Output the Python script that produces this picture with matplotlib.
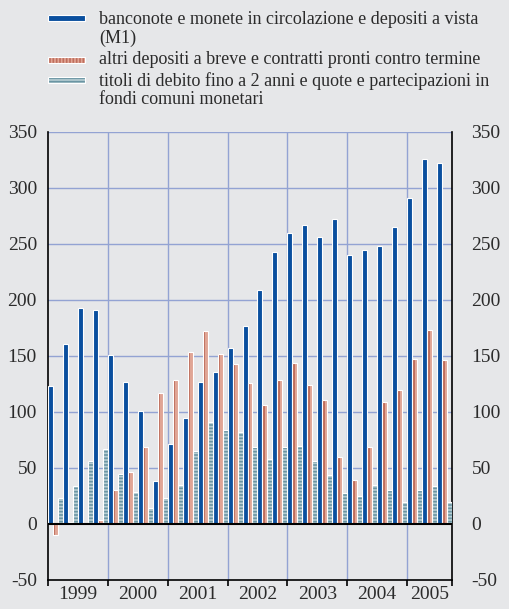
import numpy as np
import matplotlib
matplotlib.use("Agg")
import matplotlib.pyplot as plt
from matplotlib.patches import Rectangle

"""
Data (quarterly, 1999 Q1 - 2005 Q3)
"""
years = ["1999", "2000", "2001", "2002", "2003", "2004", "2005"]
quarters_per_year = [4, 4, 4, 4, 4, 4, 3]

m1 = [123, 161, 193, 191, 151, 127, 101, 38, 71, 95, 127, 136,
      157, 177, 209, 243, 260, 267, 256, 272, 240, 245, 248, 265,
      291, 326, 322]
altri_depositi = [-10, 2, 1, 4, 30, 46, 69, 117, 129, 154, 172, 152,
                  143, 126, 106, 129, 144, 124, 111, 60, 39, 69, 109, 120,
                  147, 173, 146]
titoli = [23, 34, 56, 67, 45, 29, 14, 23, 35, 65, 91, 84,
          82, 69, 58, 69, 70, 56, 44, 28, 25, 35, 30, 20,
          30, 34, 20]

labels = [
    "banconote e monete in circolazione e depositi a vista\n(M1)",
    "altri depositi a breve e contratti pronti contro termine",
    "titoli di debito fino a 2 anni e quote e partecipazioni in\nfondi comuni monetari",
]

"""
Style
"""
BG = "#e6e7e9"
BLUE = "#0a4f9e"
RED_DARK = "#bf6d5c"
RED_LIGHT = "#e0a595"
TEAL_LIGHT = "#b7ced4"
TEAL_DARK = "#6a95a3"
GRID = "#93a3d3"
TXT = "#2b2b2b"

plt.rcParams["font.family"] = ["Liberation Serif", "DejaVu Serif"]
plt.rcParams["axes.unicode_minus"] = False
plt.rcParams["hatch.linewidth"] = 1.2

fig = plt.figure(figsize=(5.09, 6.09), dpi=100, facecolor=BG)
ax = fig.add_axes([48 / 509, 29 / 609, 404 / 509, 448 / 609])
ax.set_facecolor(BG)

x = np.arange(len(m1))
w = 1 / 3

"""
Bars
"""
ax.bar(x - w, m1, width=w, color=BLUE, edgecolor="white", linewidth=0.8, zorder=3)

# red: darker left half, lighter right half
ax.bar(x, altri_depositi, width=w, color=RED_LIGHT, linewidth=0, zorder=3)
ax.bar(x - w / 4, altri_depositi, width=w / 2, color=RED_DARK, linewidth=0, zorder=3)
ax.bar(x, altri_depositi, width=w, fill=False, edgecolor="white", linewidth=0.8, zorder=4)

# teal: horizontal stripes
ax.bar(x + w, titoli, width=w, color=TEAL_LIGHT, edgecolor=TEAL_DARK, hatch="-----",
       linewidth=0, zorder=3)
ax.bar(x + w, titoli, width=w, fill=False, edgecolor="white", linewidth=0.8, zorder=4)

"""
Axes
"""
n = len(m1)
ax.set_xlim(-0.5, n - 0.5)
ax.set_ylim(-50, 350)
yticks = np.arange(-50, 351, 50)
ax.set_yticks(yticks)

bounds = np.cumsum(quarters_per_year)[:-1] - 0.5
for b in bounds:
    ax.axvline(b, color=GRID, lw=1, zorder=1)
for yv in np.arange(50, 351, 50):
    ax.axhline(yv, color=GRID, lw=1, zorder=1)
ax.axhline(0, color="black", lw=1.5, zorder=5)

starts = np.concatenate([[0], np.cumsum(quarters_per_year)[:-1]])
centers = starts + (np.array(quarters_per_year) - 1) / 2
ax.set_xticks(centers)
ax.set_xticklabels(years, fontsize=14, color=TXT)
ax.tick_params(axis="x", length=0, pad=4)
ax.set_xticks(np.concatenate([[-0.5], bounds, [n - 0.5]]), minor=True)
ax.tick_params(axis="x", which="minor", length=4, width=1.2, direction="out", color="black")

ax.tick_params(axis="y", length=0, labelsize=14, labelcolor=TXT, pad=8)

# right-hand labels
ax2 = ax.twinx()
ax2.set_ylim(ax.get_ylim())
ax2.set_yticks(yticks)
ax2.tick_params(axis="y", length=0, labelsize=14, labelcolor=TXT, pad=14)
for s in ax2.spines.values():
    s.set_visible(False)

ax.spines["top"].set_visible(False)
for s in ["left", "right", "bottom"]:
    ax.spines[s].set_color("black")
    ax.spines[s].set_linewidth(1.2)

"""
Legend (drawn manually)
"""
def px(xp, yp):
    return xp / 509, 1 - yp / 609

hx, hw, hh = 48, 37, 6
handles = [
    dict(y=15, fc=BLUE, ec=BLUE, hatch=None),
    dict(y=57, fc=RED_DARK, ec=RED_LIGHT, hatch="|||||"),
    dict(y=77, fc=TEAL_LIGHT, ec=TEAL_DARK, hatch="-----"),
]
text_y = [11, 51, 72]
for h, lab, ty in zip(handles, labels, text_y):
    x0, y0 = px(hx, h["y"] + hh)
    r = Rectangle((x0, y0), hw / 509, hh / 609, transform=fig.transFigure,
                  facecolor=h["fc"], edgecolor=h["ec"], hatch=h["hatch"], linewidth=0)
    fig.add_artist(r)
    r2 = Rectangle((x0, y0), hw / 509, hh / 609, transform=fig.transFigure,
                   fill=False, edgecolor="white", linewidth=0.8)
    fig.add_artist(r2)
    tx, tyf = px(99, ty)
    fig.text(tx, tyf, lab, fontsize=13, color=TXT, va="top", ha="left",
             linespacing=1.12)

fig.savefig("out.png", dpi=100, facecolor=BG)
